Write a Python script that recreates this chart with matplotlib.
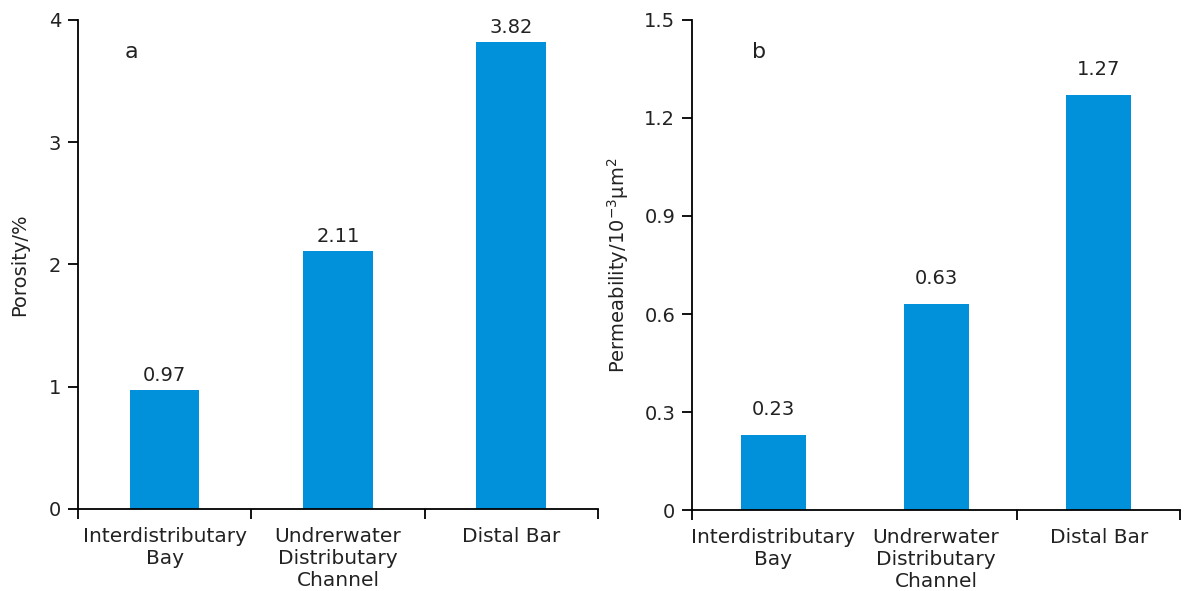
import matplotlib
matplotlib.use("Agg")
import matplotlib.pyplot as plt

plt.rcParams['font.family'] = ['DejaVu Sans']

categories = ['Interdistributary\nBay', 'Undrerwater\nDistributary\nChannel', 'Distal Bar']
porosity = [0.97, 2.11, 3.82]
permeability = [0.23, 0.63, 1.27]
poro_labels = ['0.97', '2.11', '3.82']
perm_labels = ['0.23', '0.63', '1.27']

bar_color = '#0091da'
fs = 14
text_col = '#222222'

fig = plt.figure(figsize=(11.86, 5.91), dpi=100)
ax1 = fig.add_axes([0.0658, 0.1388, 0.4382, 0.8274])
ax2 = fig.add_axes([0.5835, 0.137, 0.4115, 0.8292])

def style(ax, ylim, yticks, yticklabels, ylabel, letter, letter_x, boundaries):
    ax.set_xlim(-0.5, 2.5)
    ax.set_ylim(*ylim)
    ax.set_yticks(yticks)
    ax.set_yticklabels(yticklabels)
    ax.set_xticks(range(len(categories)))
    ax.set_xticklabels(categories, fontsize=14.5, linespacing=1.2, color=text_col)
    ax.set_xticks(boundaries, minor=True)
    ax.tick_params(axis='x', which='major', length=0, pad=13)
    ax.tick_params(axis='x', which='minor', length=7, width=1.3, direction='out')
    ax.tick_params(axis='y', length=7, width=1.3, labelsize=fs, pad=5,
                   labelcolor=text_col)
    for s in ['top', 'right']:
        ax.spines[s].set_visible(False)
    for s in ['left', 'bottom']:
        ax.spines[s].set_linewidth(1.3)
    ax.set_ylabel(ylabel, fontsize=fs, color=text_col)
    ax.text(letter_x, 0.935, letter, transform=ax.transAxes, fontsize=16,
            ha='left', va='center', color=text_col)

x = range(len(categories))
ax1.bar(x, porosity, width=0.4, color=bar_color)
for i, v in enumerate(porosity):
    ax1.text(i, v + 0.04, poro_labels[i], ha='center', va='bottom', fontsize=fs,
             color=text_col)
style(ax1, (0, 4), [0, 1, 2, 3, 4], ['0', '1', '2', '3', '4'],
      'Porosity/%', 'a', 0.09, [-0.5, 0.5, 1.5, 2.5])
ax1.yaxis.set_label_coords(-0.095, 0.5)

ax2.bar(x, permeability, width=0.4, color=bar_color)
for i, v in enumerate(permeability):
    ax2.text(i, v + 0.05, perm_labels[i], ha='center', va='bottom', fontsize=fs,
             color=text_col)
style(ax2, (0, 1.5), [0, 0.3, 0.6, 0.9, 1.2, 1.5],
      ['0', '0.3', '0.6', '0.9', '1.2', '1.5'],
      'Permeability/10$^{-3}$μm$^{2}$', 'b', 0.123, [-0.5, 1.5, 2.5])
ax2.yaxis.set_label_coords(-0.125, 0.5)

fig.savefig('out.png', dpi=100)
